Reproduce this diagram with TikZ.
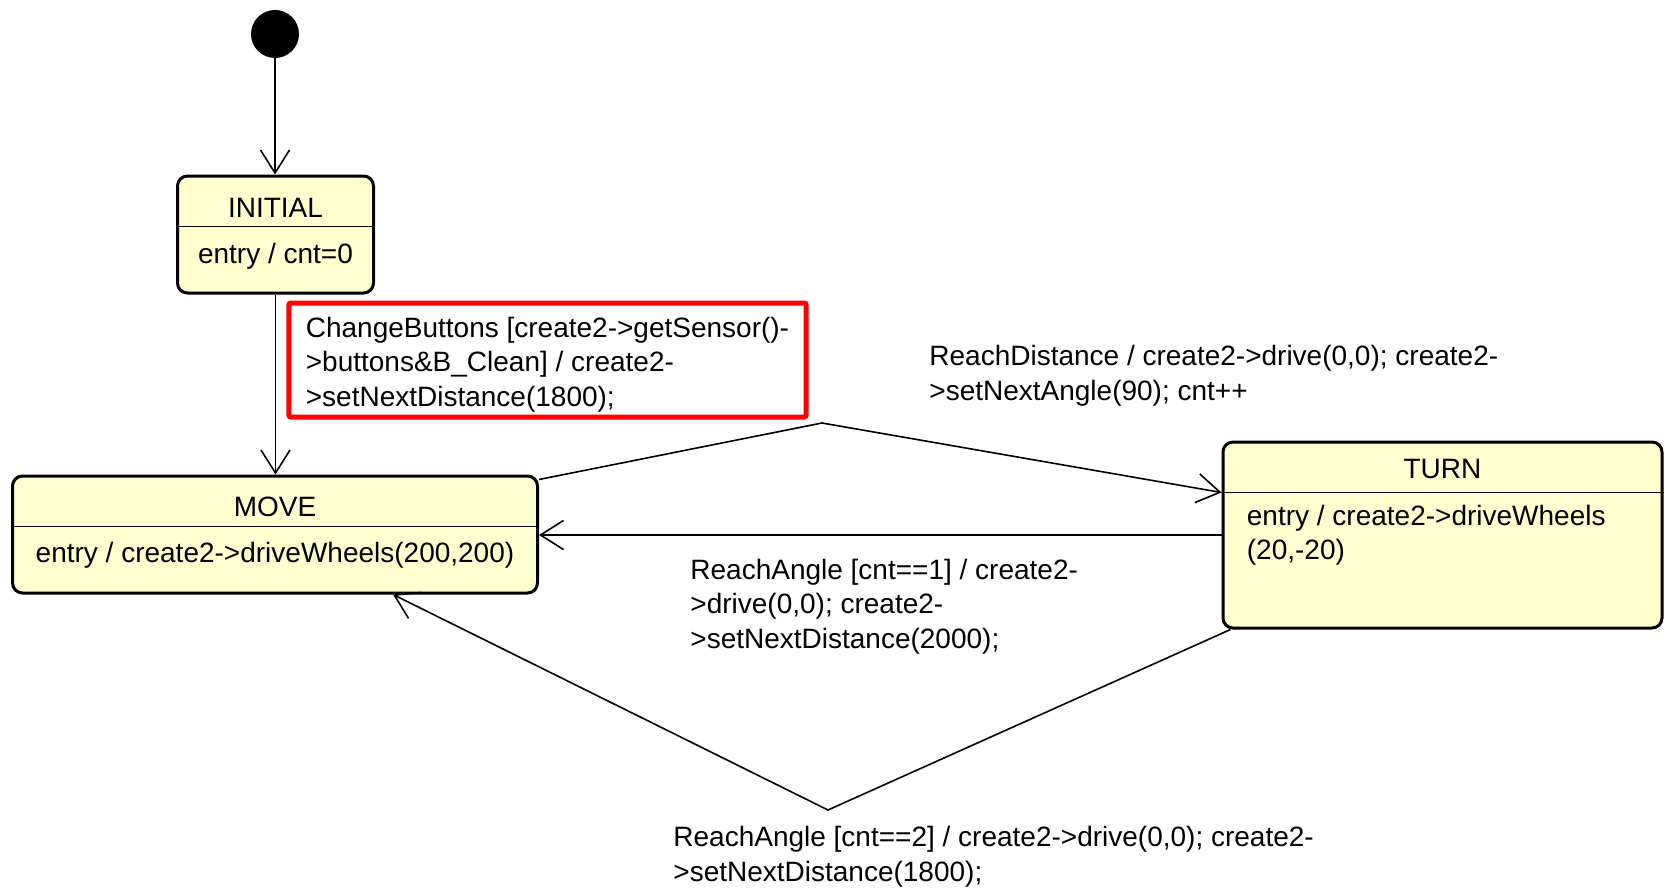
\documentclass[tikz,border=0pt]{standalone}
\usepackage{fontspec}
\setmainfont{Liberation Sans}
\usetikzlibrary{arrows.meta}

\definecolor{stateyellow}{HTML}{FEFECE}

\tikzset{
    state/.style={draw, line width=1.5pt, rounded corners=5pt, fill=stateyellow, inner sep=0pt},
    divider/.style={line width=0.75pt},
    trans/.style={line width=0.8pt, -{Straight Barb[length=11.5pt,width=14.5pt]}},
    txt/.style={inner sep=0pt, align=left},
    guard/.style={draw=red, line width=2.5pt, rounded corners=1pt, inner xsep=8.5pt, inner ysep=0pt,
        align=left, minimum width=258.5pt, minimum height=57pt}
}

\begin{document}
\begin{tikzpicture}[x=0.5pt, y=-0.5pt, font=\fontsize{14}{17.25}\selectfont]
    \useasboundingbox (0,0) rectangle (1665,888);

    % Draw initial pseudo state
    \node[circle, fill=black, inner sep=0pt, minimum size=24pt] (init) at (275,34) {};

    % Draw the states
    \node[state, minimum width=98pt, minimum height=58.5pt] (initial) at (275.5,234.5) {};
    \node[state, minimum width=262.5pt, minimum height=58.5pt] (move) at (275,534.5) {};
    \node[state, minimum width=219.5pt, minimum height=93pt] (turn) at (1442.5,535) {};

    % Compartment lines
    \draw[divider] ([yshift=-26pt]initial.north west) -- ([yshift=-26pt]initial.north east);
    \draw[divider] ([yshift=-26pt]move.north west) -- ([yshift=-26pt]move.north east);
    \draw[divider] ([yshift=-26pt]turn.north west) -- ([yshift=-26pt]turn.north east);

    % State names and entry actions
    \node[txt, anchor=base] (initial-name) at ([yshift=-21.5pt]initial.north) {INITIAL};
    \node[txt, anchor=base] (initial-entry) at ([yshift=-44.5pt]initial.north) {entry / cnt=0};
    \node[txt, anchor=base] (move-name) at ([yshift=-21pt]move.north) {MOVE};
    \node[txt, anchor=base] (move-entry) at ([yshift=-44pt]move.north) {entry / create2->driveWheels(200,200)};
    \node[txt, anchor=base] (turn-name) at ([yshift=-19pt]turn.north) {TURN};
    \node[txt, anchor=base west] (turn-entry) at ([xshift=12.5pt,yshift=-59.5pt]turn.north west) {entry / create2->driveWheels\\(20,-20)};

    % Bend points of the transitions
    \coordinate (bendtop) at (822,423);
    \coordinate (bendbottom) at (828,810);

    % Draw transitions
    \draw[trans] (init) -- (init |- initial.north);
    \draw[trans] (initial) -- (initial |- move.north);
    \draw[trans] ([yshift=-2.5pt]move.north east) -- (bendtop) -- ([yshift=-26pt]turn.north west);
    \draw[trans] (turn.west) -- (turn.west -| move.east);
    \draw[trans] ([xshift=4.5pt]turn.south west) -- (bendbottom) -- ([xshift=59pt]move.south);

    % Transition labels (base is the last line)
    \node[guard] (buttons-label) at (547.5,360) {\rule{0pt}{14.5pt}ChangeButtons [create2->getSensor()-\\>buttons\&B\_Clean] / create2-\\>setNextDistance(1800);};
    \node[txt, anchor=base west] (distance-label) at (929,400) {ReachDistance / create2->drive(0,0); create2-\\>setNextAngle(90); cnt++};
    \node[txt, anchor=base west] (angle1-label) at (690,648) {ReachAngle [cnt==1] / create2-\\>drive(0,0); create2-\\>setNextDistance(2000);};
    \node[txt, anchor=base west] (angle2-label) at (673,881) {ReachAngle [cnt==2] / create2->drive(0,0); create2-\\>setNextDistance(1800);};
\end{tikzpicture}
\end{document}
